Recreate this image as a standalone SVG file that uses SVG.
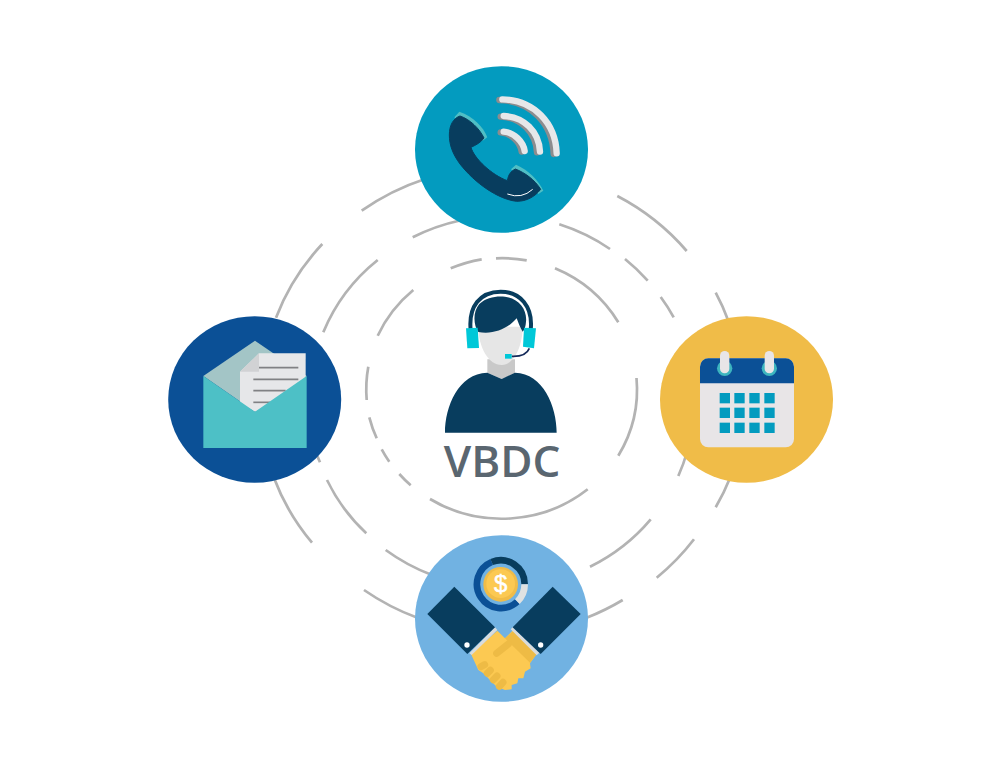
<svg xmlns="http://www.w3.org/2000/svg" width="1002" height="768" viewBox="0 0 1002 768">
<style>
.ring{fill:none;stroke:#b3b3b3;stroke-width:2.7}
.navy{fill:#083d5e}
.blue{fill:#0b5096}
.teal{fill:#50bfc5}
.hand{fill:#fcc952}
.handd{fill:#eebb45}
.fing{fill:none;stroke:#eebb45;stroke-width:21;stroke-linecap:round}
.ln{stroke:#808184;stroke-width:5}
.sq{fill:#039bbf;width:31px;height:31px}
.peg{fill:#e8e5e7}
.pegr{fill:#3db5bf}
.wl{fill:none;stroke:#e6e7e9;stroke-width:19;stroke-linecap:round}
.wd{fill:none;stroke:#8c8c8e;stroke-width:19;stroke-linecap:round}
</style>
<rect width="1002" height="768" fill="#fff"/>
<g id="connectors" class="ring">
<path d="M276 317.7A236 226 0 0 1 322.3 244"/>
<path d="M361.7 210.7A236 226 0 0 1 425 179"/>
<path d="M617.3 196A236 226 0 0 1 686.7 251"/>
<path d="M715.7 292.7A236 226 0 0 1 728 320"/>
<path d="M730 478A236 226 0 0 1 715.7 507.3"/>
<path d="M694 539.3A236 226 0 0 1 656.7 577.7"/>
<path d="M622.7 600A236 226 0 0 1 586 618"/>
<path d="M418 618A236 226 0 0 1 364 590"/>
<path d="M312 542.7A236 226 0 0 1 274 478"/>
<path d="M323.3 332.3A190 180 0 0 1 377.7 260"/>
<path d="M412.7 237.3A190 180 0 0 1 460 220.5"/>
<path d="M559.3 224.3A190 180 0 0 1 610 249"/>
<path d="M625 259A190 180 0 0 1 647.7 280.7"/>
<path d="M660.7 297A190 180 0 0 1 673.7 317.3"/>
<path d="M687 452A190 180 0 0 1 678.3 476"/>
<path d="M650.7 519.3A190 180 0 0 1 590 566.7"/>
<path d="M432 575A190 180 0 0 1 385.7 550"/>
<path d="M366.3 533.3A190 180 0 0 1 327 480"/>
<path d="M320 462.3A190 180 0 0 1 315 450"/>
<path d="M377.7 335.7A136 131 0 0 1 413.3 290"/>
<path d="M450.7 268.3A136 131 0 0 1 481.7 259.3"/>
<path d="M496 258.3A136 131 0 0 1 526.7 260.3"/>
<path d="M555 268.3A136 131 0 0 1 618.3 322.3"/>
<path d="M636.5 378A136 131 0 0 1 618.3 455.7"/>
<path d="M587.7 489.3A136 131 0 0 1 430 499"/>
<path d="M410.7 485.3A136 131 0 0 1 399.3 474"/>
<path d="M389.3 461.7A136 131 0 0 1 381.7 449.3"/>
<path d="M376.7 438.3A136 131 0 0 1 369.3 417.3"/>
<path d="M366.7 400A136 131 0 0 1 368.3 366.7"/>
</g>
<g id="node-phone">
<ellipse cx="501.5" cy="149.5" rx="86.5" ry="83.3" fill="#039bbf"/>
<g transform="translate(410 60) scale(.33333)">
<path class="wd" d="M268 120C363 122 428 192 431 282"/>
<path class="wd" d="M272 170C333 172 378 217 381 277"/>
<path class="wd" d="M272 217C303 219 331 247 335 275"/>
<path class="wl" d="M277 118C372 120 437 190 440 280"/>
<path class="wl" d="M281 168C342 170 387 215 390 275"/>
<path class="wl" d="M281 215C312 217 340 245 344 273"/>
<path class="teal" d="M133 172L148 155C190 170 220 200 232 232L218 242Z"/>
<path class="teal" d="M303 328L318 314C355 330 385 360 400 392L385 402Z"/>
<path class="navy" stroke="#083d5e" stroke-width="3" d="M150 168C180 178 208 205 222 234C212 248 198 255 183 262C192 295 245 345 292 362C295 345 302 333 316 327C345 338 375 360 392 388C375 410 350 424 320 424C265 418 195 370 150 312C128 282 118 255 118 225C118 195 130 175 150 168Z"/>
<path d="M292 402Q335 418 368 388" fill="none" stroke="#fff" stroke-width="3"/>
</g>
</g>
<g id="node-mail">
<ellipse cx="254.7" cy="399.5" rx="86.5" ry="83.3" class="blue"/>
<g transform="translate(165 310) scale(.33333)">
<polygon points="115,198 270,92 425,198 270,305" fill="#a3c5c6"/>
<polygon points="282,130 422,130 422,250 270,305 225,280 225,185" fill="#e6e7e9"/>
<polygon points="282,130 225,185 282,185" fill="#d1d2d4"/>
<g class="ln"><line x1="282" y1="173" x2="400" y2="173"/><line x1="265" y1="208" x2="400" y2="208"/><line x1="265" y1="242" x2="362" y2="242"/><line x1="265" y1="277" x2="316" y2="277"/></g>
<polygon points="115,198 270,305 425,198 425,414 115,414" fill="#4dc0c6"/>
</g>
</g>
<g id="node-calendar">
<ellipse cx="746.5" cy="399.5" rx="86.5" ry="83.3" fill="#f0bc48"/>
<g transform="translate(655 310) scale(.33333)">
<rect x="135" y="145" width="282" height="267" rx="25" fill="#e8e5e7"/>
<path class="blue" d="M135 220V170A25 25 0 0 1 160 145H392A25 25 0 0 1 417 170V220Z"/>
<circle class="pegr" cx="209" cy="175" r="23"/><circle class="pegr" cx="343" cy="175" r="23"/>
<rect class="peg" x="195" y="123" width="28" height="67" rx="14"/><rect class="peg" x="329" y="123" width="28" height="67" rx="14"/>
<rect class="sq" x="194" y="249"/><rect class="sq" x="238" y="249"/><rect class="sq" x="283" y="249"/><rect class="sq" x="328" y="249"/>
<rect class="sq" x="194" y="293"/><rect class="sq" x="238" y="293"/><rect class="sq" x="283" y="293"/><rect class="sq" x="328" y="293"/>
<rect class="sq" x="194" y="338"/><rect class="sq" x="238" y="338"/><rect class="sq" x="283" y="338"/><rect class="sq" x="328" y="338"/>
</g>
</g>
<g id="node-deal">
<ellipse cx="501.5" cy="618.5" rx="86.5" ry="83.3" fill="#71b2e2"/>
<g transform="translate(410 530) scale(.33333)">
<g fill="none" stroke-width="20">
<path stroke="#0b5096" d="M322 215A72 72 0 1 1 245 96"/>
<path stroke="#083d5e" d="M245 96A72 72 0 0 1 344 163"/>
<path stroke="#dfe2e2" d="M344 163A72 72 0 0 1 322 215"/>
</g>
<circle cx="272" cy="163" r="52" fill="#f0bc48"/><circle cx="272" cy="161" r="43" fill="#fcc952"/>
<text x="272" y="186" text-anchor="middle" font-family="'Liberation Sans',sans-serif" font-size="72" fill="#fff" stroke="#fff" stroke-width="1.5">$</text>
<polygon class="hand" points="262,302 285,325 310,300 380,372 360,400 362,415 345,425 340,445 325,445 322,460 305,465 305,478 285,480 260,470 220,430 205,420 183,372"/>
<polygon class="handd" points="310,303 380,372 360,398 300,340 285,325"/>
<line class="fing" x1="295" y1="342" x2="260" y2="370"/>
<line class="fing" x1="213" y1="410" x2="224" y2="404"/><line class="fing" x1="232" y1="430" x2="241" y2="421"/><line class="fing" x1="250" y1="449" x2="261" y2="438"/><line class="fing" x1="268" y1="469" x2="279" y2="457"/>
<polygon points="255,292 262,300 185,375 178,370" fill="#d9dcdc"/><polygon points="308,292 388,368 380,376 302,298" fill="#d9dcdc"/>
<polygon class="navy" points="133,170 255,292 172,372 52,252"/><polygon class="navy" points="428,170 512,252 392,372 308,292"/>
<circle cx="171" cy="345" r="8" fill="#fff"/><circle cx="392" cy="345" r="8" fill="#fff"/>
</g>
</g>
<g id="node-agent">
<g transform="translate(430 280) scale(.33333)">
<path d="M172 238H255V280L215 297L172 278Z" fill="#c9c9c9"/>
<path class="navy" d="M45 458C45 380 85 280 172 278L215 297L255 278C340 280 380 380 380 458Z"/>
<path d="M145 140C145 200 175 255 215 255C250 255 278 200 278 140Z" fill="#e6e6e6"/>
<path class="navy" d="M145 156C130 135 128 95 148 72C168 52 200 47 225 50C268 56 292 90 288 125C287 140 284 148 278 155C270 142 265 128 260 115C235 145 190 165 145 156Z"/>
<path d="M122 150C115 80 150 35 212 35C270 35 310 80 302 150" fill="none" stroke="#083d5e" stroke-width="12"/>
<path d="M298 205C290 225 270 230 245 229" fill="none" stroke="#152a5a" stroke-width="5"/>
<rect x="225" y="222" width="20" height="14" fill="#00c8d8"/>
<polygon points="108,145 143,143 147,204 112,205" fill="#00c8d8"/>
<polygon points="282,143 318,145 312,205 279,200" fill="#00c8d8"/>
</g>
<text x="502" y="477" text-anchor="middle" font-family="'Open Sans',sans-serif" font-weight="600" font-size="44" fill="#5a6670">VBDC</text>
</g>
</svg>
